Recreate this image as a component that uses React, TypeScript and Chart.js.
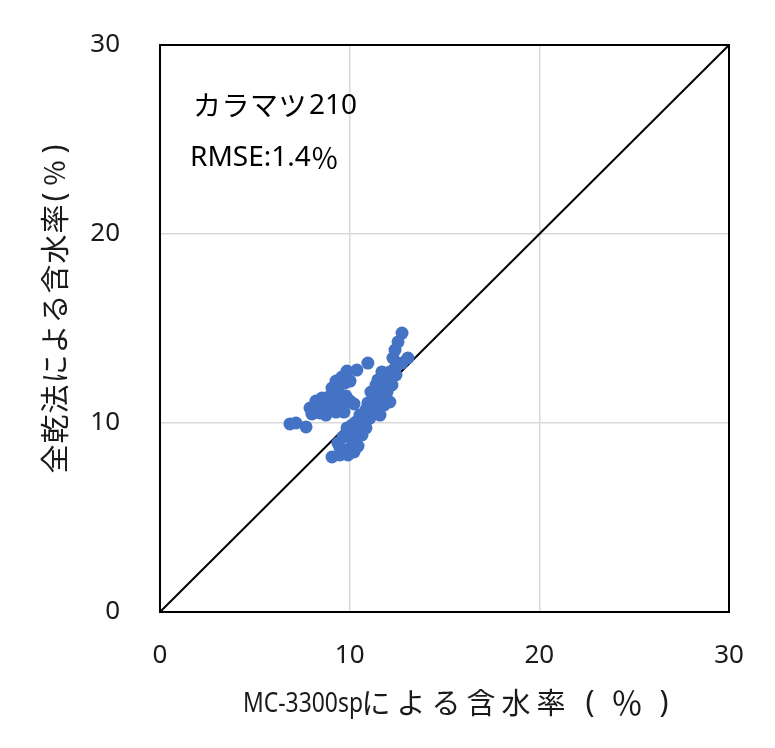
import React, { useEffect, useRef } from 'react';
import { Chart, registerables } from 'chart.js';

Chart.register(...registerables);

// MC-3300sp readings (%)
const mcValues = [
  6.85, 7.17, 7.70, 7.91, 8.12, 8.33, 8.43, 8.65, 8.86, 8.54, 8.96, 9.17, 9.38, 9.70, 10.02, 10.23,
  9.49, 9.80, 9.07, 9.38, 9.28, 9.59, 9.86, 10.02, 9.75, 10.38, 10.96, 8.22, 8.75, 9.28, 9.70, 8.01,
  9.07, 9.49, 9.80, 10.23, 10.44, 10.12, 9.38, 9.65, 9.91, 9.86, 10.12, 10.44, 10.28, 10.65, 10.91,
  10.75, 11.07, 11.18, 10.96, 11.33, 11.49, 11.60, 11.44, 11.60, 11.76, 11.86, 12.12, 12.39, 11.97,
  12.12, 11.81, 11.49, 11.70, 12.28, 12.76, 13.07, 12.39, 12.55, 12.76, 12.02, 12.44, 11.28, 11.12,
  11.39, 10.86, 10.54, 10.33, 10.65, 10.86, 11.60, 11.86, 12.23, 9.49, 9.91,
];
// Oven-dry moisture content (%)
const ovenValues = [
  9.95, 10.00, 9.79, 10.79, 10.58, 10.90, 10.53, 11.01, 10.69, 11.32, 11.43, 11.11, 10.79, 11.01, 11.16, 11.01,
  11.43, 11.43, 11.85, 11.75, 12.22, 12.43, 12.75, 12.22, 12.12, 12.80, 13.17, 11.16, 10.42, 10.58, 10.58, 10.48,
  8.20, 8.31, 8.57, 8.47, 8.78, 8.78, 8.94, 9.26, 9.31, 9.74, 9.89, 9.63, 9.10, 10.16, 10.53,
  9.89, 10.26, 10.79, 11.06, 11.22, 10.69, 11.48, 11.64, 11.85, 12.12, 12.54, 12.70, 12.91, 11.64,
  11.11, 10.95, 12.28, 12.70, 13.44, 13.17, 13.44, 13.86, 14.29, 14.76, 12.28, 12.54, 11.32, 11.64,
  12.01, 10.69, 10.42, 10.05, 9.37, 9.74, 10.42, 11.32, 12.01, 8.68, 8.31,
];
const lineX = [0, 30];
const lineY = [0, 30];
const tickValues = [0, 10, 20, 30];

const xTitleLatin = 'MC-3300sp';
const xTitleKana = 'による含水率';
const yTitleKana = '全乾法による含水率';
const unitParts = ['（', '％', '）'];
const labelKana = 'カラマツ';
const labelNum = '210';
const labelRmse = 'RMSE:1.4％';

const LATIN = "'Noto Sans', sans-serif";
const CJK = "'Noto Sans CJK JP', sans-serif";
const TEXT = '#1a1a1a';

function drawSpaced(ctx: CanvasRenderingContext2D, text: string, startCenter: number, y: number, advance: number) {
  const chars = Array.from(text);
  chars.forEach((c, i) => ctx.fillText(c, startCenter + i * advance, y));
}

function drawFitted(ctx: CanvasRenderingContext2D, text: string, x: number, y: number, width: number) {
  const w = ctx.measureText(text).width;
  ctx.save();
  ctx.translate(x, y);
  ctx.scale(width / w, 1);
  ctx.textAlign = 'left';
  ctx.fillText(text, 0, 0);
  ctx.restore();
}

// draw the unit "（％）" with Latin-style parens around a full-width percent sign
function drawUnit(ctx: CanvasRenderingContext2D, open: number, mid: number, close: number, y: number, pctSize: number) {
  ctx.font = `30px ${LATIN}`;
  ctx.fillText('(', open, y);
  ctx.fillText(')', close, y);
  ctx.font = `${pctSize}px ${CJK}`;
  ctx.fillText(unitParts[1], mid, y);
}

export default function App() {
  const ref = useRef<HTMLCanvasElement | null>(null);

  useEffect(() => {
    if (!ref.current) return;
    const points = mcValues.map((x, i) => ({ x, y: ovenValues[i] }));
    const line = lineX.map((x, i) => ({ x, y: lineY[i] }));

    const textPlugin = {
      id: 'texts',
      afterDraw(chart: any) {
        const ctx = chart.ctx as CanvasRenderingContext2D;
        const a = chart.chartArea;
        ctx.save();
        ctx.strokeStyle = '#000';
        ctx.lineWidth = 2;
        ctx.strokeRect(a.left, a.top, a.right - a.left, a.bottom - a.top);

        ctx.fillStyle = TEXT;
        ctx.textBaseline = 'middle';

        // X title
        ctx.font = `27px ${LATIN}`;
        drawFitted(ctx, xTitleLatin, 243, 704, 120);
        ctx.textAlign = 'center';
        ctx.font = `29px ${CJK}`;
        drawSpaced(ctx, xTitleKana, 376, 703, 35);
        drawUnit(ctx, 590, 627, 664, 703, 32);

        // Y title
        ctx.save();
        ctx.translate(55, 0);
        ctx.rotate(-Math.PI / 2);
        ctx.font = `29px ${CJK}`;
        drawSpaced(ctx, yTitleKana, -459, 0, 30);
        drawUnit(ctx, -197, -173, -149, 0, 27);
        ctx.restore();

        // Annotations
        ctx.fillStyle = '#000';
        ctx.font = `28px ${CJK}`;
        ctx.textAlign = 'center';
        drawSpaced(ctx, labelKana, 207, 105, 28.5);
        ctx.textAlign = 'left';
        ctx.font = `28px ${LATIN}`;
        ctx.fillText(labelNum, 309, 106);
        const rm = labelRmse.slice(0, -1);
        ctx.fillText(rm, 190, 158);
        const w = ctx.measureText(rm).width;
        ctx.font = `28px ${CJK}`;
        ctx.fillText(labelRmse.slice(-1), 190 + w, 158);
        ctx.restore();
      },
    };

    const chart = new Chart(ref.current, {
      type: 'scatter',
      data: {
        datasets: [
          {
            type: 'line',
            data: line,
            borderColor: '#000',
            borderWidth: 2,
            pointRadius: 0,
            fill: false,
            order: 2,
          } as any,
          {
            data: points,
            backgroundColor: '#4472C4',
            borderColor: '#4472C4',
            borderWidth: 0,
            pointRadius: 6.5,
            order: 1,
          },
        ],
      },
      options: {
        animation: false,
        responsive: false,
        maintainAspectRatio: false,
        layout: { padding: { left: 0, top: 45, right: 46, bottom: 0 } },
        plugins: { legend: { display: false }, tooltip: { enabled: false } },
        scales: {
          x: {
            type: 'linear',
            min: 0,
            max: 30,
            afterBuildTicks: (axis: any) => {
              axis.ticks = tickValues.map((v) => ({ value: v }));
            },
            afterFit: (axis: any) => {
              axis.height = 136;
              axis.paddingLeft = 0;
              axis.paddingRight = 0;
            },
            grid: { color: '#d9d9d9', lineWidth: 1.5, drawTicks: false },
            border: { display: false },
            ticks: { color: TEXT, font: { size: 26, family: LATIN }, padding: 28 },
          },
          y: {
            type: 'linear',
            min: 0,
            max: 30,
            afterBuildTicks: (axis: any) => {
              axis.ticks = tickValues.map((v) => ({ value: v }));
            },
            afterFit: (axis: any) => {
              axis.width = 160;
              axis.paddingTop = 0;
              axis.paddingBottom = 0;
            },
            grid: { color: '#d9d9d9', lineWidth: 1.5, drawTicks: false },
            border: { display: false },
            ticks: { color: TEXT, font: { size: 26, family: LATIN }, padding: 40 },
          },
        },
      },
      plugins: [textPlugin],
    });
    return () => chart.destroy();
  }, []);

  return (
    <div style={{ position: 'fixed', left: 0, top: 0, width: 775, height: 748, background: '#fff' }}>
      <canvas ref={ref} width={775} height={748} style={{ width: 775, height: 748 }} />
    </div>
  );
}
